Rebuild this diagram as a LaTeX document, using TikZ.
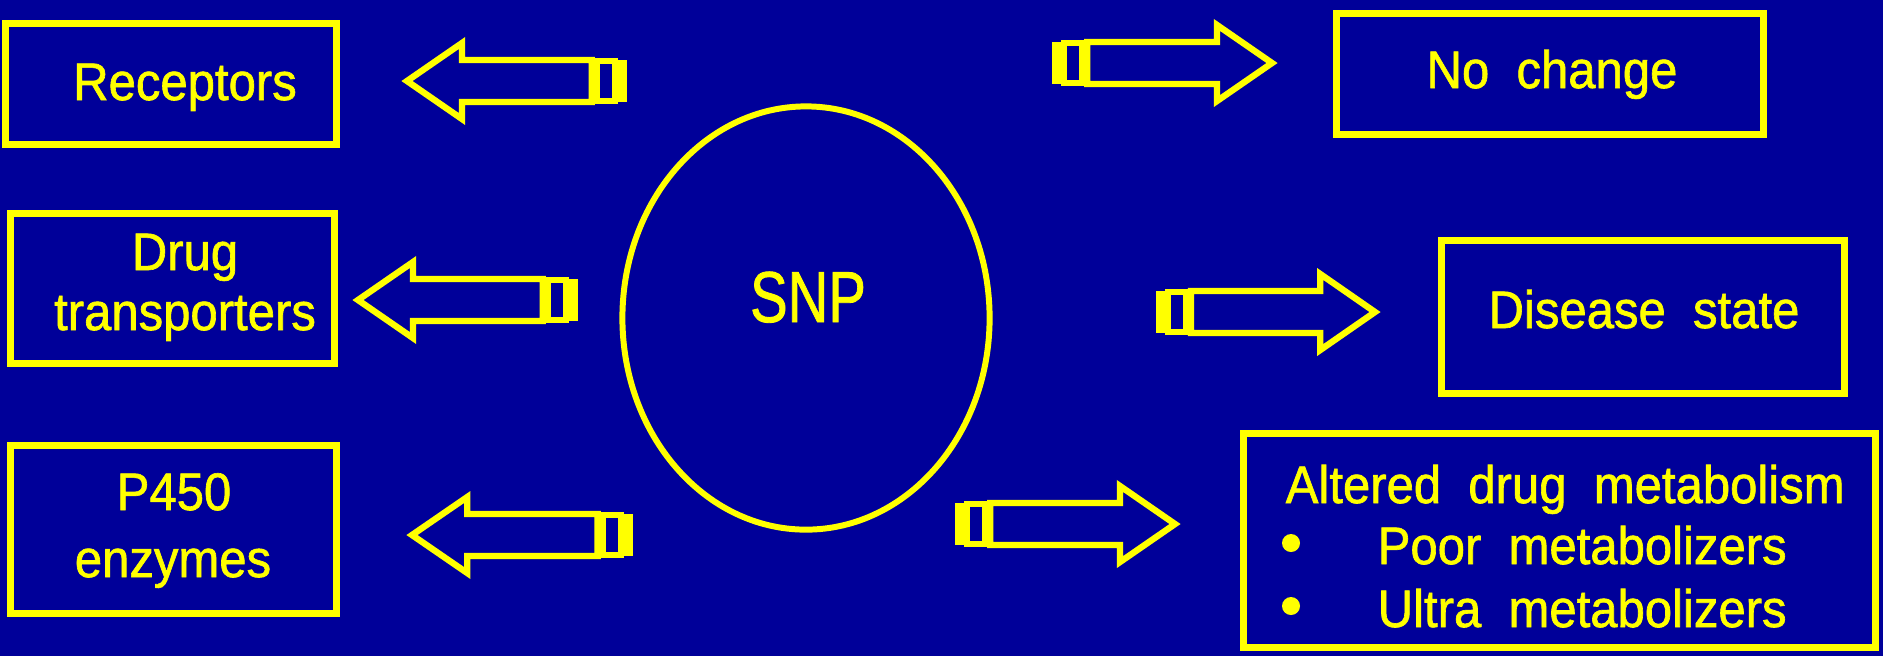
\documentclass[tikz,border=0pt]{standalone}
\usepackage{fontspec}
\usepackage{graphicx}
\setmainfont{Liberation Sans}[FakeStretch=0.93,WordSpace=2,FakeBold=1.2]
\usetikzlibrary{calc,shapes.geometric}
\definecolor{bgblue}{RGB}{0,0,153}
\definecolor{ylw}{RGB}{255,255,0}
\tikzset{
  box/.style={draw=ylw, line width=2pt, inner sep=0pt, rectangle},
  lbl/.style={text=ylw, font=\fontsize{15}{18}\selectfont, inner sep=0pt, anchor=base},
  arrowline/.style={draw=ylw, line width=1.8pt, line join=miter},
  bullet/.style={circle, fill=ylw, inner sep=0pt, minimum size=0.18cm},
}
\newcommand\blockarrow[2]{%
  \fill[ylw] ($(#1)+(0,-21)$) rectangle ($(#1)!0.055!(#2)+(0,21)$);
  \draw[arrowline] ($(#1)!0.055!(#2)+(0,-20)$) rectangle ($(#1)!0.136!(#2)+(0,20)$);
  \draw[arrowline] ($(#1)!0.16!(#2)+(0,-21)$) -- ($(#1)!0.75!(#2)+(0,-21)$)
     -- ($(#1)!0.75!(#2)+(0,-38)$) -- (#2) -- ($(#1)!0.75!(#2)+(0,38)$)
     -- ($(#1)!0.75!(#2)+(0,21)$) -- ($(#1)!0.16!(#2)+(0,21)$) -- cycle;
}
\begin{document}
\begin{tikzpicture}[x=0.01cm, y=-0.01cm]
\fill[bgblue] (0,0) rectangle (1883,656);
\useasboundingbox (0,0) rectangle (1883,656);

% boxes
\node[box, minimum width=3.31cm, minimum height=1.21cm] (rec) at (171,84) {};
\node[box, minimum width=3.24cm, minimum height=1.50cm] (drug) at (172.5,288.5) {};
\node[box, minimum width=3.26cm, minimum height=1.68cm] (p450) at (173.5,529.5) {};
\node[box, minimum width=4.27cm, minimum height=1.21cm] (noch) at (1550,74) {};
\node[box, minimum width=4.03cm, minimum height=1.53cm] (dis) at (1643,317) {};
\node[box, minimum width=6.32cm, minimum height=2.14cm] (alt) at (1559.5,540.5) {};

% SNP ellipse
\node[ellipse, draw=ylw, line width=1.7pt, minimum width=3.67cm, minimum height=4.23cm, inner sep=0pt] (snp) at (806,318) {};
\node[lbl, font=\fontsize{20.5}{24}\selectfont] (snpt) at (808,322) {\scalebox{0.84}[1]{SNP}};

% texts
\node[lbl] (t1) at (185,100) {Receptors};
\node[lbl] (t2a) at (185,270) {Drug};
\node[lbl] (t2b) at (185,330) {transporters};
\node[lbl] (t3a) at (174,510) {P450};
\node[lbl] (t3b) at (173,577) {enzymes};
\node[lbl] (t4) at (1552,88) {No change};
\node[lbl] (t5) at (1644,328) {Disease state};
\node[lbl, anchor=base west] (t6a) at (1285,503) {Altered drug metabolism};
\node[bullet] (b1) at (1291,543) {};
\node[lbl, anchor=base west] (t6b) at (1377,564) {Poor metabolizers};
\node[bullet] (b2) at (1291,606) {};
\node[lbl, anchor=base west] (t6c) at (1377,627) {Ultra metabolizers};

% arrow end points
\coordinate (a1t) at (627,81);  \coordinate (a1h) at (407,81);
\coordinate (a2t) at (578,300); \coordinate (a2h) at (358,300);
\coordinate (a3t) at (633,535); \coordinate (a3h) at (412,535);
\coordinate (a4t) at (1052,63); \coordinate (a4h) at (1272,63);
\coordinate (a5t) at (1156,312); \coordinate (a5h) at (1375,312);
\coordinate (a6t) at (955,524); \coordinate (a6h) at (1175,524);

\blockarrow{a1t}{a1h}
\blockarrow{a2t}{a2h}
\blockarrow{a3t}{a3h}
\blockarrow{a4t}{a4h}
\blockarrow{a5t}{a5h}
\blockarrow{a6t}{a6h}
\end{tikzpicture}
\end{document}
